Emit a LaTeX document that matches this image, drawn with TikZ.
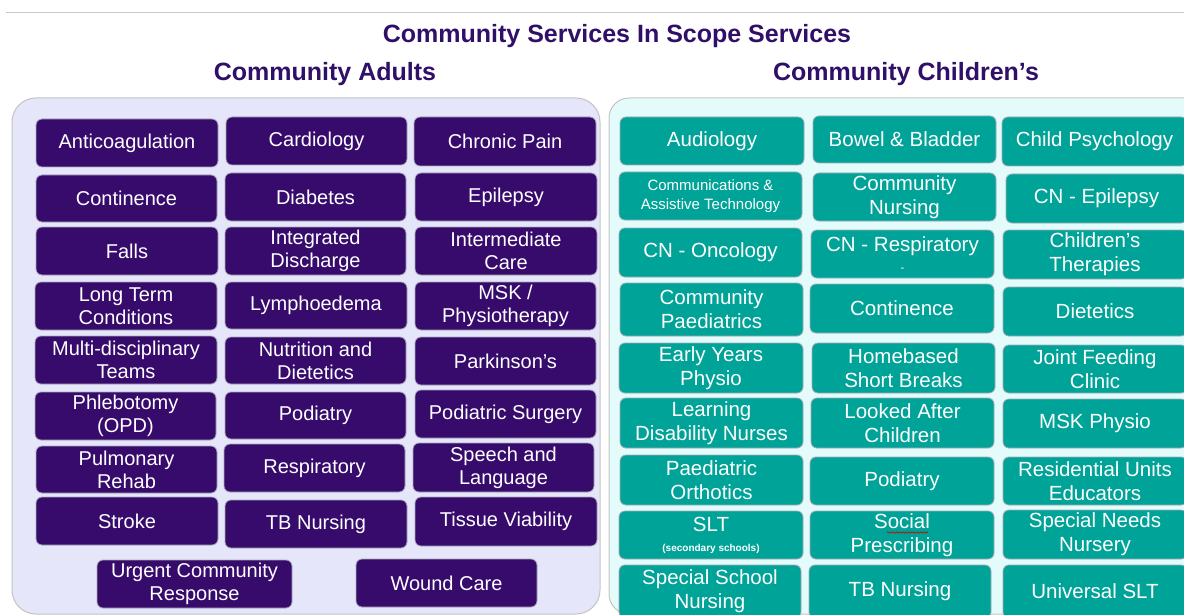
\documentclass[tikz,border=0pt]{standalone}
\usepackage{fontspec}
\setmainfont{Liberation Sans}
\usetikzlibrary{decorations.pathmorphing}

\definecolor{titlepurple}{HTML}{2F0F68}
\definecolor{adultfill}{HTML}{370B6C}
\definecolor{childfill}{HTML}{00A397}
\definecolor{adultpanel}{HTML}{E6E6FA}
\definecolor{childpanel}{HTML}{E3FBFB}
\definecolor{panelline}{HTML}{C4C4C4}
\definecolor{boxline}{HTML}{A9A9B4}

% service box: style, name, left, top, right, bottom, text
\newcommand\svc[7]{%
  \pgfmathsetmacro\svcw{#5-#3}%
  \pgfmathsetmacro\svch{#6-#4}%
  \node[#1, minimum width=\svcw pt, minimum height=\svch pt]
    (#2) at ({(#3+#5)/2},{(#4+#6)/2}) {#7};}

\tikzset{
  heading/.style={text=titlepurple, font=\fontsize{25}{28}\selectfont\bfseries, anchor=base, inner sep=0pt},
  servicebox/.style={draw=boxline, line width=0.8pt, rounded corners=6pt, text=white,
    align=center, inner sep=0pt},
  adultbox/.style={servicebox, fill=adultfill, font=\fontsize{20}{23}\selectfont},
  childbox/.style={servicebox, fill=childfill, font=\fontsize{20.5}{24}\selectfont},
  smallchildbox/.style={childbox, font=\fontsize{15}{18.5}\selectfont},
  panel/.style={draw=panelline, line width=1pt},
  spellmark/.style={draw=red!80!black, line width=0.6pt, decorate,
    decoration={snake, amplitude=0.8pt, segment length=3pt}},
}

\begin{document}
\begin{tikzpicture}[x=1pt,y=-1pt]
\useasboundingbox (0,0) rectangle (1184,615);
\clip (0,0) rectangle (1184,615);
\fill[white] (0,0) rectangle (1184,615);

% rule across the top
\coordinate (ruleL) at (6,12);
\coordinate (ruleR) at (1184,12);
\draw[black!22, line width=0.8pt] (ruleL) -- (ruleR);

% headings
\node[heading] (title) at (617,43) {Community Services In Scope Services};
\node[heading] (adults) at (325,81) {Community Adults};
\node[heading] (children) at (906,81) {Community Children’s};

% panels
\draw[panel, fill=adultpanel, rounded corners=24pt] (12,98) rectangle (600,614);
\draw[panel, fill=childpanel, rounded corners=20pt] (609,98) rectangle (1210,614);

% adult services
\svc{adultbox}{a1}{36}{119}{218}{167}{Anticoagulation}
\svc{adultbox}{a2}{226}{117}{407}{165}{Cardiology}
\svc{adultbox}{a3}{414}{117}{596}{166}{Chronic Pain}
\svc{adultbox}{a4}{36}{175}{217}{222}{Continence}
\svc{adultbox}{a5}{225}{173}{406}{221}{Diabetes}
\svc{adultbox}{a6}{415}{173}{597}{221}{Epilepsy}
\svc{adultbox}{a7}{36}{227}{218}{275}{Falls}
\svc{adultbox}{a8}{225}{227}{406}{275}{Integrated\\Discharge}
\svc{adultbox}{a9}{415}{227}{597}{275}{Intermediate\\Care}
\svc{adultbox}{a10}{35}{282}{217}{330}{Long Term\\Conditions}
\svc{adultbox}{a11}{225}{282}{407}{329}{Lymphoedema}
\svc{adultbox}{a12}{415}{282}{596}{330}{MSK /\\Physiotherapy}
\svc{adultbox}{a13}{35}{336}{217}{384}{Multi-disciplinary\\Teams}
\svc{adultbox}{a14}{225}{337}{406}{384}{Nutrition and\\Dietetics}
\svc{adultbox}{a15}{415}{337}{596}{385}{Parkinson’s}
\svc{adultbox}{a16}{35}{392}{216}{440}{Phlebotomy\\(OPD)}
\svc{adultbox}{a17}{225}{392}{406}{439}{Podiatry}
\svc{adultbox}{a18}{415}{390}{596}{438}{Podiatric Surgery}
\svc{adultbox}{a19}{36}{446}{217}{493}{Pulmonary\\Rehab}
\svc{adultbox}{a20}{224}{444}{405}{492}{Respiratory}
\svc{adultbox}{a21}{413}{443}{594}{492}{Speech and\\Language}
\svc{adultbox}{a22}{36}{497}{218}{545}{Stroke}
\svc{adultbox}{a23}{225}{500}{407}{548}{TB Nursing}
\svc{adultbox}{a24}{415}{497}{597}{546}{Tissue Viability}
\svc{adultbox}{a25}{97}{560}{292}{608}{Urgent Community\\Response}
\svc{adultbox}{a26}{356}{559}{537}{607}{Wound Care}

% children's services
\svc{childbox}{c1}{620}{117}{804}{165}{Audiology}
\svc{childbox}{c2}{813}{116}{996}{163}{Bowel \& Bladder}
\svc{childbox}{c3}{1002}{117}{1187}{166}{Child Psychology}
\svc{smallchildbox}{c4}{619}{172}{802}{220}{Communications \&\\Assistive Technology}
\svc{childbox}{c5}{813}{173}{996}{221}{Community\\Nursing}
\svc{childbox}{c6}{1006}{174}{1187}{223}{CN - Epilepsy}
\svc{childbox}{c7}{619}{228}{802}{277}{CN - Oncology}
\svc{childbox}{c8}{811}{230}{994}{278}{CN - Respiratory\\[-4pt]{\fontsize{11}{12}\selectfont -}}
\svc{childbox}{c9}{1003}{230}{1187}{279}{Children’s\\Therapies}
\svc{childbox}{c10}{620}{283}{803}{336}{Community\\Paediatrics}
\svc{childbox}{c11}{810}{284}{994}{333}{Continence}
\svc{childbox}{c12}{1003}{287}{1187}{336}{Dietetics}
\svc{childbox}{c13}{619}{343}{803}{393}{Early Years\\Physio}
\svc{childbox}{c14}{812}{343}{995}{393}{Homebased\\Short Breaks}
\svc{childbox}{c15}{1003}{345}{1187}{393}{Joint Feeding\\Clinic}
\svc{childbox}{c16}{620}{398}{803}{448}{Learning\\Disability Nurses}
\svc{childbox}{c17}{811}{398}{994}{448}{Looked After\\Children}
\svc{childbox}{c18}{1003}{399}{1187}{448}{MSK Physio}
\svc{childbox}{c19}{620}{455}{803}{505}{Paediatric\\Orthotics}
\svc{childbox}{c20}{810}{457}{994}{505}{Podiatry}
\svc{childbox}{c21}{1003}{457}{1187}{505}{Residential Units\\Educators}
\svc{childbox}{c22}{619}{511}{803}{559}{SLT\\[-4pt]{\fontsize{10}{12}\selectfont\bfseries (secondary schools)}}
\svc{childbox}{c23}{810}{511}{994}{559}{Social\\Prescribing}
\svc{childbox}{c24}{1003}{510}{1187}{559}{Special Needs\\Nursery}
\svc{childbox}{c25}{619}{565}{801}{618}{Special School\\Nursing}
\svc{childbox}{c26}{809}{565}{991}{618}{TB Nursing}
\svc{childbox}{c27}{1003}{565}{1187}{618}{Universal SLT}

% spelling mark under "Social"
\coordinate (socA) at (887,532.5);
\coordinate (socB) at (928,532.5);
\draw[spellmark] (socA) -- (socB);
\end{tikzpicture}
\end{document}
